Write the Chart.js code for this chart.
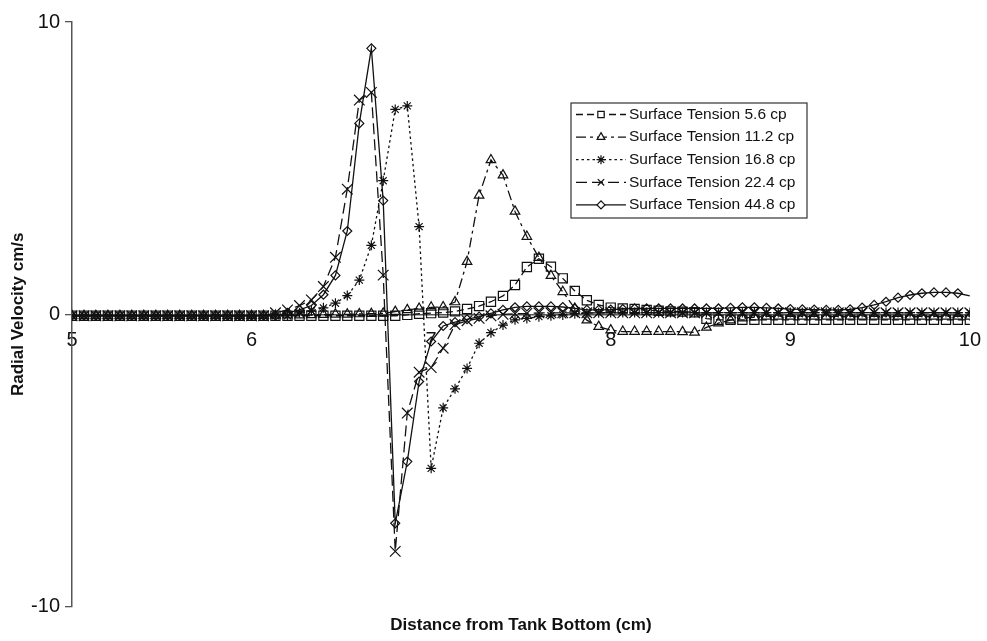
<!DOCTYPE html>
<html>
<head>
<meta charset="utf-8">
<script src="https://cdn.jsdelivr.net/npm/chart.js"></script>
<style>
  body { margin: 0; background: #fff; }
  #wrap { width: 987px; height: 641px; }
</style>
</head>
<body>
<div id="wrap"><canvas id="myChart" width="987" height="641"></canvas></div>
<script>
// distance from tank bottom (cm)
var distance = [
  5, 5.067, 5.133, 5.2, 5.267, 5.333, 5.4, 5.467, 5.533, 5.6, 5.667, 5.733, 5.8, 5.867, 5.933,
  6, 6.067, 6.133, 6.2, 6.267, 6.333, 6.4, 6.467, 6.533, 6.6, 6.667, 6.733, 6.8, 6.867, 6.933,
  7, 7.067, 7.133, 7.2, 7.267, 7.333, 7.4, 7.467, 7.533, 7.6, 7.667, 7.733, 7.8, 7.867, 7.933,
  8, 8.067, 8.133, 8.2, 8.267, 8.333, 8.4, 8.467, 8.533, 8.6, 8.667, 8.733, 8.8, 8.867, 8.933,
  9, 9.067, 9.133, 9.2, 9.267, 9.333, 9.4, 9.467, 9.533, 9.6, 9.667, 9.733, 9.8, 9.867, 9.933,
  10
];

var tension56 = [
  -0.05, -0.05, -0.05, -0.05, -0.05, -0.05, -0.05, -0.05, -0.05, -0.05, -0.05, -0.05, -0.05, -0.05,
  -0.05, -0.05, -0.05, -0.05, -0.05, -0.05, -0.05, -0.05, -0.05, -0.05, -0.05, -0.05, -0.05, -0.05,
  -0.02, 0.02, 0.04, 0.06, 0.1, 0.18, 0.28, 0.43, 0.63, 1.0, 1.62, 1.9, 1.63, 1.23, 0.8, 0.48,
  0.32, 0.23, 0.2, 0.18, 0.15, 0.12, 0.1, 0.09, 0.07,
  -0.15,
  -0.19, -0.19, -0.19, -0.19, -0.19, -0.19, -0.19, -0.19, -0.19, -0.19, -0.19,
  -0.19, -0.19, -0.19, -0.19, -0.19, -0.19, -0.19, -0.19, -0.19, -0.19, -0.19
];

var tension112 = [
  -0.05, -0.05, -0.05, -0.05, -0.05, -0.05, -0.05, -0.05, -0.05, -0.05, -0.05, -0.05, -0.05, -0.05,
  -0.05, -0.05, -0.05,
  -0.04, -0.03, -0.03, -0.02, -0.01, 0, 0, 0.01, 0.02,
  0.03,
  0.09, 0.15, 0.2, 0.24, 0.25,
  0.42,
  1.8, 4.07, 5.28, 4.76, 3.52, 2.66, 1.94, 1.32, 0.77, 0.2, -0.2, -0.42, -0.54, -0.59, -0.59,
  -0.59, -0.59, -0.59, -0.6, -0.62, -0.45, -0.3, -0.2, -0.13, -0.1,
  -0.07, -0.07, -0.07, -0.07, -0.07, -0.07, -0.07, -0.07, -0.07,
  -0.07, -0.07, -0.07, -0.07, -0.07, -0.07, -0.07, -0.07, -0.07
];

var tension168 = [
  -0.05, -0.05, -0.05, -0.05, -0.05, -0.05, -0.05, -0.05, -0.05, -0.05, -0.05, -0.05, -0.05, -0.05,
  -0.05, -0.05, -0.05, -0.05, -0.05,
  0.05, 0.12, 0.22, 0.38, 0.64, 1.17, 2.36, 4.57, 7.01, 7.13, 3.0, -5.27, -3.2, -2.55, -1.85,
  -0.99, -0.63, -0.37, -0.19, -0.14, -0.08, -0.05, -0.02,
  0.02, 0.04, 0.05,
  0.06, 0.06, 0.06, 0.06, 0.06, 0.06, 0.06, 0.06, 0.06, 0.06, 0.06, 0.06, 0.06, 0.06, 0.06, 0.06,
  0.06, 0.06, 0.06, 0.06, 0.06, 0.06, 0.06, 0.06, 0.06, 0.06, 0.06, 0.06, 0.06, 0.06, 0.06
];

var tension224 = [
  -0.05, -0.05, -0.05, -0.05, -0.05, -0.05, -0.05, -0.05, -0.05, -0.05, -0.05, -0.05, -0.05, -0.05,
  -0.05, -0.05, -0.05,
  0.05, 0.15, 0.3, 0.49, 0.95, 1.95, 4.28, 7.33, 7.59, 1.34, -8.11, -3.38, -1.98, -1.82, -1.16,
  -0.35, -0.22, -0.14, -0.05,
  0.0, 0.02, 0.03,
  0.05, 0.05, 0.05, 0.05, 0.05, 0.05, 0.05, 0.05, 0.05, 0.05, 0.05, 0.05, 0.05, 0.05, 0.05, 0.05,
  0.05, 0.05, 0.05, 0.05, 0.05, 0.05, 0.05, 0.05, 0.05, 0.05, 0.05, 0.05, 0.05, 0.05, 0.05, 0.05,
  0.05, 0.05, 0.05, 0.05, 0.05
];

var tension448 = [
  -0.05, -0.05, -0.05, -0.05, -0.05, -0.05, -0.05, -0.05, -0.05, -0.05, -0.05, -0.05, -0.05, -0.05,
  -0.05, -0.05, -0.05, -0.05,
  0.05, 0.15, 0.3, 0.67, 1.33, 2.85, 6.53, 9.1, 3.89, -7.15, -5.04, -2.3, -0.93, -0.4, -0.27,
  -0.17, -0.08, 0.03, 0.15, 0.24, 0.27, 0.27, 0.27, 0.25, 0.2, 0.15,
  0.15, 0.16, 0.18, 0.2, 0.2, 0.2, 0.2, 0.2, 0.2, 0.2, 0.2, 0.22, 0.24, 0.24, 0.22, 0.2, 0.18,
  0.17, 0.16, 0.15, 0.15, 0.17, 0.23,
  0.32, 0.43, 0.57, 0.66, 0.72, 0.75, 0.75, 0.72, 0.63
];

var seriesLabels = [
  'Surface Tension 5.6 cp',
  'Surface Tension 11.2 cp',
  'Surface Tension 16.8 cp',
  'Surface Tension 22.4 cp',
  'Surface Tension 44.8 cp'
];

var yTicks = [-10, 0, 10];
var xTicks = [5, 6, 7, 8, 9, 10];

var FONT = "'Liberation Sans', Arial, sans-serif";
var INK = '#111';
var AXIS = '#555';

function pts(vals) {
  return distance.map(function (x, i) { return { x: x, y: vals[i] }; });
}

function series(label, vals, dash, style, radius) {
  return {
    label: label,
    data: pts(vals),
    borderColor: INK,
    borderWidth: 1.3,
    borderDash: dash,
    pointStyle: style,
    pointRadius: radius,
    pointBorderColor: INK,
    pointBorderWidth: 1.2,
    pointBackgroundColor: 'rgba(0,0,0,0)',
    tension: 0,
    fill: false
  };
}

var lastIndex = distance.length - 1;

// legend drawn inside the plot, boxed
var boxLegend = {
  id: 'boxLegend',
  afterDraw: function (chart) {
    var ctx = chart.ctx;
    var box = { left: 571, top: 103, right: 807, bottom: 218 };
    ctx.save();
    ctx.fillStyle = '#fff';
    ctx.fillRect(box.left, box.top, box.right - box.left, box.bottom - box.top);
    ctx.strokeStyle = '#333';
    ctx.lineWidth = 1.2;
    ctx.strokeRect(box.left, box.top, box.right - box.left, box.bottom - box.top);
    chart.data.datasets.forEach(function (ds, k) {
      var y = box.top + 11.5 + k * 22.6;
      ctx.strokeStyle = INK;
      ctx.lineWidth = 1.3;
      ctx.setLineDash(ds.borderDash || []);
      ctx.beginPath();
      ctx.moveTo(576, y);
      ctx.lineTo(626, y);
      ctx.stroke();
      ctx.setLineDash([]);
      ctx.fillStyle = '#fff';
      ctx.lineWidth = 1.2;
      Chart.helpers.drawPoint(ctx, {
        pointStyle: ds.pointStyle,
        radius: k === 4 ? 4 : 4.5,
        rotation: 0,
        borderWidth: 1.2
      }, 601, y);
      ctx.fillStyle = INK;
      ctx.font = '15.5px ' + FONT;
      ctx.textAlign = 'left';
      ctx.textBaseline = 'middle';
      ctx.fillText(ds.label, 629, y);
    });
    ctx.restore();
  }
};

var ctx = document.getElementById('myChart').getContext('2d');
var myChart = new Chart(ctx, {
  type: 'line',
  data: {
    datasets: [
      series(seriesLabels[0], tension56, [7, 4], 'rect', 6.5),
      series(seriesLabels[1], tension112, [10, 4, 3, 4], 'triangle', 5.5),
      series(seriesLabels[2], tension168, [2.5, 3], 'star', 5),
      series(seriesLabels[3], tension224, [11, 5], 'crossRot', 7.5),
      Object.assign(series(seriesLabels[4], tension448, [], 'rectRot', 4.5), {
        pointRadius: function (c) { return c.dataIndex === lastIndex ? 0 : 4.5; }
      })
    ]
  },
  options: {
    responsive: false,
    animation: false,
    events: [],
    layout: {
      padding: { left: 0, right: 17, top: 22, bottom: 0 }
    },
    plugins: {
      legend: { display: false },
      tooltip: { enabled: false },
      title: {
        display: true,
        position: 'bottom',
        fullSize: false,
        text: 'Distance from Tank Bottom (cm)',
        color: INK,
        font: { family: FONT, size: 17, weight: 'bold' },
        padding: { top: 9, bottom: 5 }
      }
    },
    scales: {
      x: {
        type: 'linear',
        min: 5,
        max: 10,
        position: { y: 0 },
        afterBuildTicks: function (s) { s.ticks = xTicks.map(function (v) { return { value: v }; }); },
        ticks: {
          color: INK,
          font: { family: FONT, size: 20 },
          padding: 6,
          maxRotation: 0
        },
        grid: { display: false },
        border: { display: true, color: AXIS, width: 1.5 }
      },
      y: {
        type: 'linear',
        min: -10,
        max: 10,
        afterBuildTicks: function (s) { s.ticks = yTicks.map(function (v) { return { value: v }; }); },
        afterFit: function (s) { s.width = 72; },
        ticks: {
          color: INK,
          font: { family: FONT, size: 20 },
          padding: 5
        },
        grid: { display: true, drawOnChartArea: false, drawTicks: true, tickLength: 7, color: AXIS, lineWidth: 1.3 },
        border: { display: true, color: AXIS, width: 1.5 },
        title: {
          display: true,
          text: 'Radial Velocity cm/s',
          color: INK,
          font: { family: FONT, size: 17, weight: 'bold' },
          padding: { top: 8, bottom: 0 }
        }
      }
    }
  },
  plugins: [boxLegend]
});
</script>
</body>
</html>
